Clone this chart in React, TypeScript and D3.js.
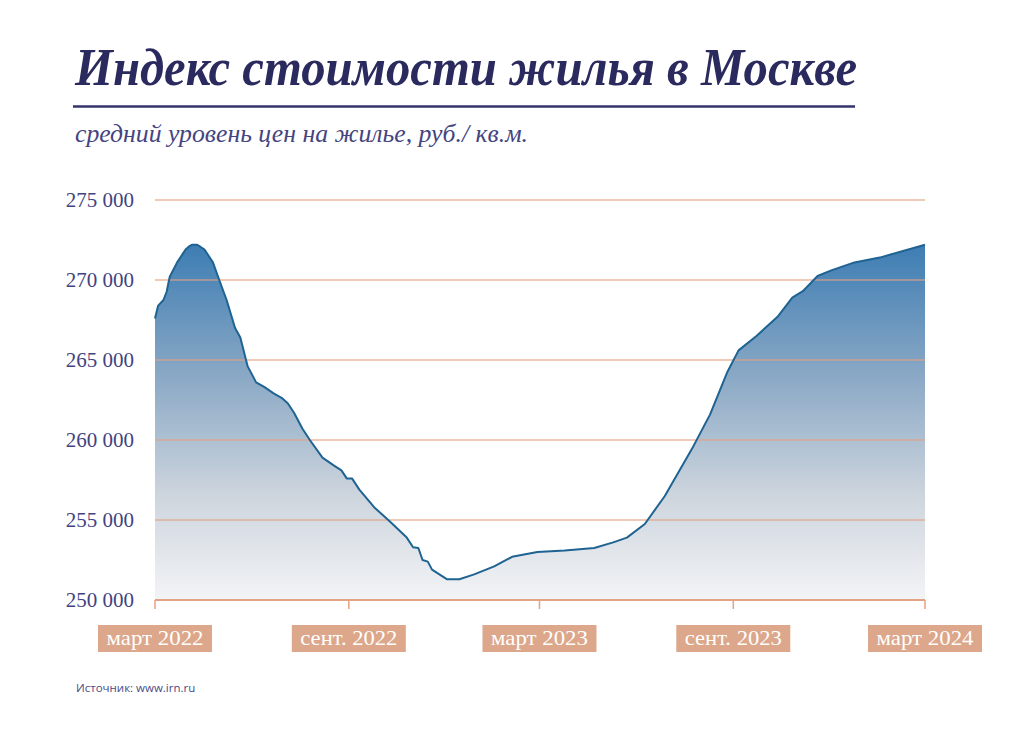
import React from "react";
import * as d3 from "d3";

const dates: string[] = [
  "2022-03-01","2022-03-04","2022-03-09","2022-03-12","2022-03-15","2022-03-22","2022-03-27","2022-03-30",
  "2022-04-02","2022-04-05","2022-04-10","2022-04-13","2022-04-17","2022-04-25","2022-05-01","2022-05-08",
  "2022-05-16","2022-05-21","2022-05-28","2022-06-05","2022-06-13","2022-06-22","2022-06-30","2022-07-05",
  "2022-07-11","2022-07-19","2022-07-26","2022-08-07","2022-08-18","2022-08-25","2022-08-30","2022-09-04",
  "2022-09-11","2022-09-25","2022-10-10","2022-10-26","2022-11-01","2022-11-06","2022-11-10","2022-11-15",
  "2022-11-19","2022-12-03","2022-12-15","2022-12-29","2023-01-17","2023-02-03","2023-02-27","2023-03-25",
  "2023-04-22","2023-05-10","2023-05-23","2023-06-09","2023-06-28","2023-07-25","2023-08-10","2023-08-26",
  "2023-09-06","2023-09-23","2023-10-13","2023-10-27","2023-11-06","2023-11-20","2023-12-03","2023-12-25",
  "2024-01-18","2024-03-01",
];

const prices: number[] = [
  267600,268400,268750,269250,270200,271100,271600,271900,
  272080,272200,272200,272080,271900,271100,270000,268750,
  267000,266400,264600,263600,263300,262900,262600,262300,
  261700,260700,260000,258900,258400,258100,257600,257600,
  256900,255800,254900,253900,253300,253250,252500,252400,
  251900,251300,251300,251600,252100,252700,253000,253100,
  253250,253600,253900,254750,256500,259600,261600,264200,
  265600,266500,267700,268900,269300,270250,270600,271100,
  271400,272200,
];

const yTicks: number[] = [250000, 255000, 260000, 265000, 270000, 275000];
const xTickDates: string[] = ["2022-03-01", "2022-09-01", "2023-03-01", "2023-09-01", "2024-03-01"];
const xTickLabels: string[] = ["март 2022", "сент. 2022", "март 2023", "сент. 2023", "март 2024"];

const title = "Индекс стоимости жилья в Москве";
const subtitle = "средний уровень цен на жилье, руб./ кв.м.";
const source = "Источник: www.irn.ru";

export default function App() {
  const W = 1024, H = 747;
  const parse = d3.timeParse("%Y-%m-%d");
  const data = dates.map((d, i) => ({ date: parse(d) as Date, value: prices[i] }));

  const x = d3.scaleTime()
    .domain([parse("2022-03-01") as Date, parse("2024-03-01") as Date])
    .range([155, 925]);
  const y = d3.scaleLinear().domain([250000, 275000]).range([600, 200]);

  const line = d3.line<{ date: Date; value: number }>()
    .x(d => x(d.date)).y(d => y(d.value)).curve(d3.curveLinear);
  const area = d3.area<{ date: Date; value: number }>()
    .x(d => x(d.date)).y0(y(250000)).y1(d => y(d.value)).curve(d3.curveLinear);

  const fmt = (v: number) => d3.format(",")(v).replace(/,/g, " ");
  const maxV = d3.max(prices) as number;

  const navy = "#2b2a5e";
  const labelColor = "#43437f";
  const grid = "#e3a282";
  const boxColor = "#dca78b";

  return (
    <div style={{ position: "absolute", left: 0, top: 0 }}>
      <svg width={W} height={H} style={{ display: "block", background: "#fff" }}>
        <defs>
          <linearGradient id="areaGrad" gradientUnits="userSpaceOnUse" x1="0" x2="0" y1={y(maxV)} y2={y(250000)}>
            <stop offset="0" stopColor="#3d7db3" />
            <stop offset="0.35" stopColor="#86a6c4" />
            <stop offset="0.7" stopColor="#ccd4dd" />
            <stop offset="1" stopColor="#f3f4f6" />
          </linearGradient>
        </defs>

        <text x={75} y={85} fill={navy} fontFamily="'Liberation Serif', serif" fontWeight="bold" fontStyle="italic"
          fontSize={52} textLength={782} lengthAdjust="spacingAndGlyphs">{title}</text>
        <line x1={73} x2={855} y1={106.5} y2={106.5} stroke="#34336c" strokeWidth={2.5} />
        <text x={75} y={142} fill="#45447f" fontFamily="'Liberation Serif', serif" fontStyle="italic"
          fontSize={25} textLength={453} lengthAdjust="spacingAndGlyphs">{subtitle}</text>

        <path d={area(data) as string} fill="url(#areaGrad)" />

        {yTicks.map(t => (
          <g key={t}>
            {t > 250000 && (
              <line x1={155} x2={925} y1={y(t)} y2={y(t)} stroke={grid} strokeWidth={1.6} strokeOpacity={0.75} />
            )}
            <text x={134} y={y(t) + 7} textAnchor="end" fill={labelColor}
              fontFamily="'Liberation Serif', serif" fontSize={21}>{fmt(t)}</text>
          </g>
        ))}

        <path d={line(data) as string} fill="none" stroke="#1f6392" strokeWidth={2} strokeLinejoin="round" />

        <line x1={155} x2={925} y1={600} y2={600} stroke={grid} strokeWidth={2} />
        {xTickDates.map((d, i) => {
          const px = x(parse(d) as Date);
          return (
            <g key={d}>
              <line x1={px} x2={px} y1={600} y2={609} stroke={grid} strokeWidth={1.5} />
              <rect x={px - 57} y={625} width={114} height={27} fill={boxColor} />
              <text x={px} y={645} textAnchor="middle" fill="#fff"
                fontFamily="'Liberation Serif', serif" fontSize={22} textLength={97}
                lengthAdjust="spacingAndGlyphs">{xTickLabels[i]}</text>
            </g>
          );
        })}

        <text x={76} y={692} fill="#4a4a86" fontFamily="'Open Sans', sans-serif" fontSize={11.5}>{source}</text>
      </svg>
    </div>
  );
}
